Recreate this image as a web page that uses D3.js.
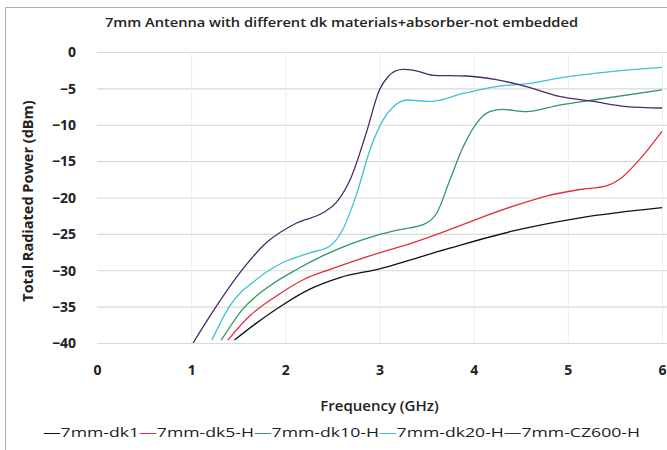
<!DOCTYPE html>
<html><head><meta charset="utf-8">
<script src="https://cdn.jsdelivr.net/npm/d3@7"></script>
<style>body{margin:0;background:#fff}svg{display:block}text{font-family:"Open Sans","Noto Sans",sans-serif}</style>
</head><body><svg id="c" width="667" height="450"></svg>
<script>
const title = "7mm Antenna with different dk materials+absorber-not embedded";
const xTitle = "Frequency (GHz)";
const yTitle = "Total Radiated Power (dBm)";
const xTicks = [0,1,2,3,4,5,6];
const yTicks = [0,-5,-10,-15,-20,-25,-30,-35,-40];
const seriesNames = ["7mm-dk1","7mm-dk5-H","7mm-dk10-H","7mm-dk20-H","7mm-CZ600-H"];
const seriesColors = ["#111111","#e0303a","#34946e","#3cc3d2","#4a2a66"];

const fDk1 = [1.46,1.70,1.98,2.26,2.58,3.00,3.71,4.42,5.13,6.0];
const vDk1 = [-39.6,-37.2,-34.7,-32.6,-31.0,-29.8,-27.1,-24.6,-22.8,-21.4];

const fDk5 = [1.39,1.62,1.91,2.19,2.47,2.76,3.05,3.36,3.71,4.07,4.42,4.77,5.13,5.41,5.55,5.76,6.0];
const vDk5 = [-39.6,-36.3,-33.5,-31.3,-29.9,-28.6,-27.4,-26.2,-24.6,-22.8,-21.2,-19.8,-18.9,-18.4,-17.5,-14.8,-10.9];

const fDk10 = [1.32,1.55,1.84,2.12,2.40,2.69,2.97,3.22,3.47,3.61,3.75,3.89,4.03,4.17,4.31,4.56,4.91,5.27,6.0];
const vDk10 = [-39.6,-35.3,-32.1,-29.9,-28.0,-26.4,-25.2,-24.4,-23.7,-22.1,-17.5,-13.0,-9.8,-8.2,-7.9,-8.2,-7.3,-6.6,-5.2];

const fDk20 = [1.22,1.41,1.70,1.98,2.26,2.47,2.61,2.76,2.90,3.04,3.15,3.29,3.54,3.89,4.24,4.60,4.95,5.30,6.0];
const vDk20 = [-39.6,-34.9,-31.2,-28.9,-27.6,-26.7,-24.4,-19.4,-13.4,-9.3,-7.5,-6.6,-6.8,-5.7,-4.75,-4.3,-3.5,-2.9,-2.1];

const fCz = [1.02,1.27,1.52,1.80,2.12,2.40,2.54,2.69,2.86,3.00,3.09,3.17,3.25,3.39,3.57,3.92,4.24,4.56,4.91,5.27,5.62,6.0];
const vCz = [-40.0,-34.9,-30.3,-26.2,-23.5,-22.1,-20.7,-17.5,-11.1,-5.2,-3.4,-2.6,-2.4,-2.6,-3.2,-3.3,-3.8,-4.75,-6.1,-6.8,-7.5,-7.7];

const seriesF = [fDk1,fDk5,fDk10,fDk20,fCz];
const seriesV = [vDk1,vDk5,vDk10,vDk20,vCz];

const svg = d3.select("#c");
const L=97, R=662, T=52, B=343;
const x = d3.scaleLinear().domain([0,6]).range([L,R]);
const y = d3.scaleLinear().domain([-40,0]).range([B,T]);

// frame
svg.append("rect").attr("x",5.5).attr("y",7.5).attr("width",700).attr("height",500)
  .attr("fill","none").attr("stroke","#b0b0b0").attr("stroke-width",1);

// title
svg.append("text").attr("x",105).attr("y",27)
  .attr("font-size",12.5).attr("font-weight",600).attr("fill","#222")
  .attr("textLength",473).attr("lengthAdjust","spacingAndGlyphs").text(title);

// grid
const gy = svg.append("g").attr("transform",`translate(${L},0)`)
  .call(d3.axisLeft(y).tickValues(yTicks).tickSize(-(667-L)).tickFormat(""));
gy.select(".domain").remove();
gy.selectAll("line").attr("stroke","#d9d9d9").attr("stroke-width",1.2);
const gx = svg.append("g").attr("transform",`translate(0,${B})`)
  .call(d3.axisBottom(x).tickValues(xTicks.slice(1)).tickSize(-(B-T)).tickFormat(""));
gx.select(".domain").remove();
gx.selectAll("line").attr("stroke","#eeeeee").attr("stroke-width",1);

// axis labels
const ay = svg.append("g").attr("transform",`translate(${L-21},0)`)
  .call(d3.axisLeft(y).tickValues(yTicks).tickSize(0).tickPadding(0).tickFormat(d3.format("d")));
ay.select(".domain").remove();
ay.selectAll("text").attr("font-size",14).attr("font-weight",700).attr("fill","#222")
  .attr("font-family","'Open Sans',sans-serif").attr("dy","0.34em");
const ax = svg.append("g").attr("transform",`translate(0,${B})`)
  .call(d3.axisBottom(x).tickValues(xTicks).tickSize(0).tickPadding(22).tickFormat(d3.format("d")));
ax.select(".domain").remove();
ax.selectAll("text").attr("font-size",14).attr("font-weight",700).attr("fill","#222")
  .attr("font-family","'Open Sans',sans-serif");

svg.append("text").attr("x",(L+R)/2).attr("y",411).attr("text-anchor","middle")
  .attr("font-size",15).attr("font-weight",600).attr("fill","#222").text(xTitle);
svg.append("text").attr("transform","translate(33,201) rotate(-90)").attr("text-anchor","middle")
  .attr("font-size",14.5).attr("font-weight",700).attr("fill","#222").text(yTitle);

// clip
svg.append("clipPath").attr("id","pc").append("rect")
  .attr("x",L).attr("y",T-20).attr("width",667-L).attr("height",B-T+20);
const line = d3.line().x(d=>x(d[0])).y(d=>y(d[1])).curve(d3.curveMonotoneX);
const plot = svg.append("g").attr("clip-path","url(#pc)");
seriesNames.forEach((n,i)=>{
  const pts = seriesF[i].map((f,j)=>[f,seriesV[i][j]]);
  plot.append("path").datum(pts).attr("d",line).attr("fill","none")
    .attr("stroke",seriesColors[i]).attr("stroke-width",1.3);
});

// legend
const lg = svg.append("text").attr("x",43).attr("y",437).attr("font-size",13).attr("fill","#222")
  .attr("textLength",597).attr("lengthAdjust","spacingAndGlyphs");
seriesNames.forEach((n,i)=>{
  lg.append("tspan").attr("fill",seriesColors[i]).text("\u2014");
  lg.append("tspan").text(n);
});
</script></body></html>
